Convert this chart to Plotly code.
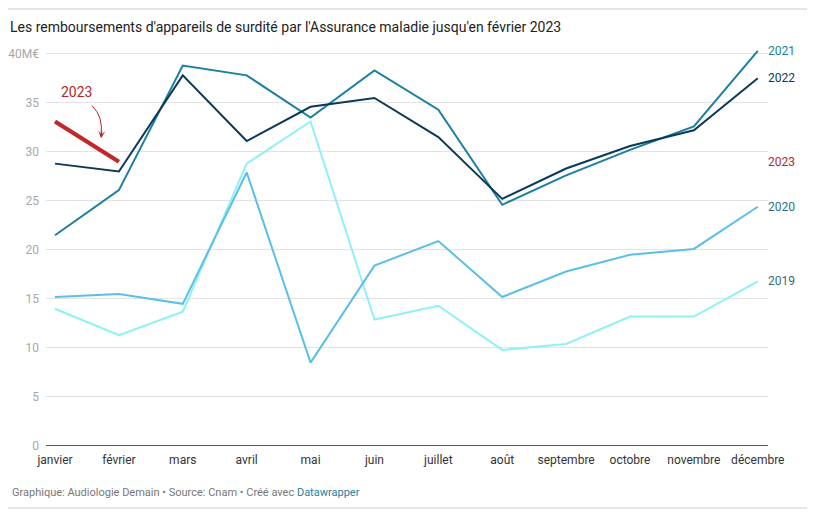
import plotly.graph_objects as go

months = ["janvier", "février", "mars", "avril", "mai", "juin", "juillet",
          "août", "septembre", "octobre", "novembre", "décembre"]

y2019 = [14.0, 11.3, 13.7, 28.8, 33.1, 12.9, 14.3, 9.8, 10.4, 13.2, 13.2, 16.8]
y2020 = [15.2, 15.5, 14.5, 27.9, 8.5, 18.4, 20.9, 15.2, 17.8, 19.5, 20.1, 24.4]
y2021 = [21.5, 26.1, 38.8, 37.8, 33.5, 38.3, 34.3, 24.6, 27.6, 30.2, 32.6, 40.3]
y2022 = [28.8, 28.0, 37.8, 31.1, 34.6, 35.5, 31.5, 25.2, 28.3, 30.6, 32.2, 37.5]
y2023 = [33.1, 29.0]

y_ticks = [0, 5, 10, 15, 20, 25, 30, 35, 40]
y_tick_labels = ["0", "5", "10", "15", "20", "25", "30", "35", "40M€"]

series = [
    ("2019", y2019, "#8ef1f7", 2),
    ("2020", y2020, "#5bbfe6", 2),
    ("2021", y2021, "#1a7fa0", 2),
    ("2022", y2022, "#0b3a58", 2),
    ("2023", y2023, "#c0282a", 4.2),
]
label_col = {"2019": "#2f6e80", "2020": "#2a6f8f", "2021": "#1a7fa0",
             "2022": "#0b3a58", "2023": "#b5262a"}

x_idx = list(range(len(months)))

# geometry (page body has an 8px margin)
W, H = 807, 504
L, R, T, B = 38, 47, 36, 66
PW, PH = W - L - R, H - T - B

def px(sx):   # screen x -> paper x
    return (sx - 8 - L) / PW

def py(sy):   # screen y -> paper y
    return (8 + T + PH - sy) / PH

fig = go.Figure()
for name, vals, color, w in series:
    fig.add_trace(go.Scatter(
        x=x_idx[:len(vals)], y=vals, mode="lines", name=name,
        line=dict(color=color, width=w), hoverinfo="skip"))

# right-side labels at each series' last value
for name, vals, color, w in series:
    fig.add_annotation(x=1.0, xref="paper", y=vals[-1], yref="y",
                       text=name, showarrow=False, xanchor="left",
                       xshift=-2, font=dict(size=12, color=label_col[name]))

# 2023 callout
fig.add_annotation(x=0.34, y=36.1, text="2023", showarrow=False,
                   font=dict(size=14, color="#b5262a"))
fig.add_shape(type="path", path="M 0.58 34.7 Q 0.76 33.6 0.72 31.6",
              line=dict(color="#b5262a", width=1))
fig.add_annotation(x=0.72, y=31.4, ax=0.735, ay=32.3, axref="x", ayref="y",
                   xref="x", yref="y", text="", showarrow=True,
                   arrowhead=3, arrowsize=1.2, arrowwidth=1,
                   arrowcolor="#b5262a")

fig.update_layout(
    width=W, height=H,
    margin=dict(l=L, r=R, t=T, b=B),
    paper_bgcolor="white", plot_bgcolor="white",
    font=dict(family="Roboto", color="#333333"),
    showlegend=False,
    title=dict(text="Les remboursements d'appareils de surdité par l'Assurance maladie jusqu'en février 2023",
               x=2 / W, xanchor="left", y=1 - 19 / H, yanchor="middle",
               font=dict(size=14, color="#222222")),
    xaxis=dict(range=[-0.141, 11.16], tickmode="array", tickvals=x_idx,
               ticktext=months, showgrid=False, zeroline=False,
               showline=False, ticks="", automargin=False,
               ticklabelstandoff=5,
               tickfont=dict(size=12, color="#333333")),
    yaxis=dict(range=[0, 41], tickmode="array", tickvals=y_ticks,
               ticktext=y_tick_labels, showgrid=True, gridcolor="#e3e3e3",
               gridwidth=1, zeroline=False, showline=False, ticks="",
               automargin=False,
               tickfont=dict(size=12, color="#a8a8a8"), ticklabelstandoff=6),
)

# baseline at zero
fig.add_shape(type="line", xref="paper", yref="y", x0=0, x1=1, y0=0, y1=0,
              line=dict(color="#222222", width=1.3))

# footer
fig.add_annotation(
    x=px(10), y=py(492), xref="paper", yref="paper", xanchor="left", yanchor="middle",
    text="Graphique: Audiologie Demain • Source: Cnam • Créé avec <span style='color:#1d81a2'>Datawrapper</span>",
    showarrow=False, font=dict(size=11, color="#777777"))

# top and bottom separators
fig.add_shape(type="line", xref="paper", yref="paper", x0=px(8), x1=px(808),
              y0=py(9), y1=py(9), line=dict(color="#e6e6e6", width=2))
fig.add_shape(type="line", xref="paper", yref="paper", x0=px(8), x1=px(808),
              y0=py(508), y1=py(508), line=dict(color="#e6e6e6", width=2))

fig.write_html("out.html")
